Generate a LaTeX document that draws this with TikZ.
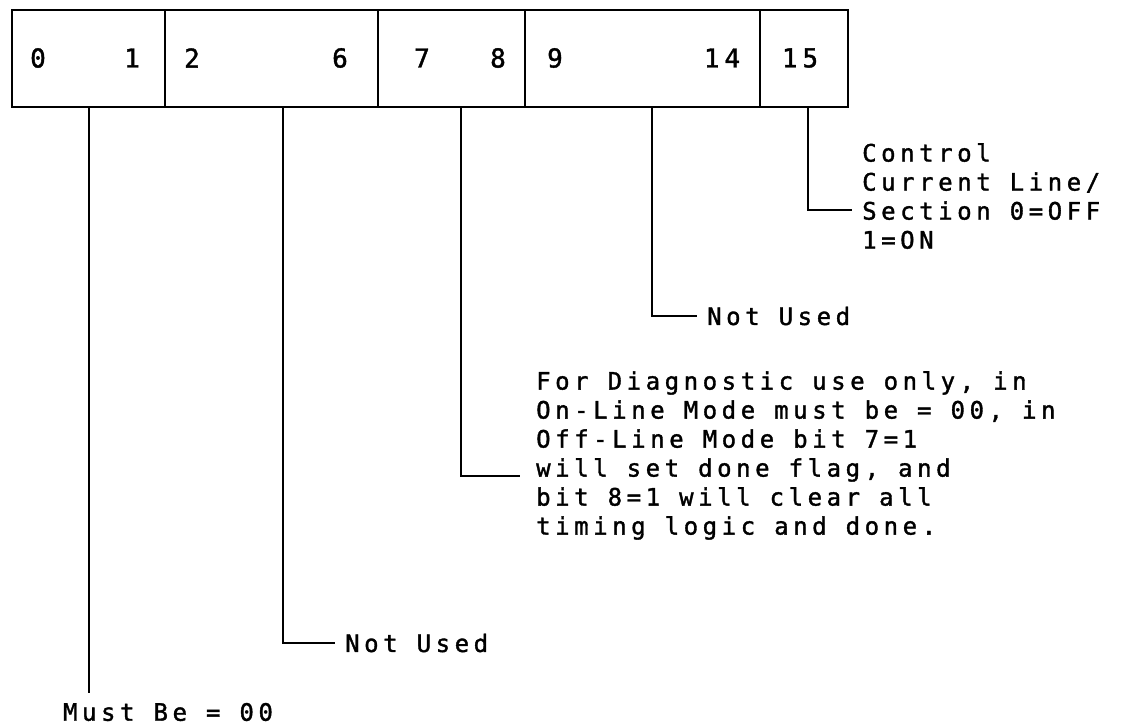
\documentclass[tikz,border=0pt]{standalone}
\usepackage{fontspec}
\newfontfamily\gothic[LetterSpace=19,FakeBold=1.5]{DejaVu Sans Mono}
\usetikzlibrary{fit}
\tikzset{
  cell/.style={draw,line width=2.5pt,inner sep=0pt},
  digit/.style={font=\gothic\fontsize{26}{28}\selectfont,inner sep=0pt},
  lbl/.style={font=\gothic\fontsize{24}{29}\selectfont,align=left,inner sep=10pt},
  wire/.style={draw,line width=2pt},
}
\begin{document}
\begin{tikzpicture}[x=1pt,y=-1pt]
\useasboundingbox (0,0) rectangle (1124,726);
% register fields
\foreach \nm/\lo/\hi in {01/12/165,26/165/378,78/378/525,914/525/760,15/760/848}{
  \node[cell,fit={(\lo,10) (\hi,107)}] (b\nm) {};}
\foreach \bit/\xx in {0/38,1/132,2/192,6/340,7/422,8/498,9/555,14/722,15/800}{
  \node[digit] (d\bit) at (\xx,58) {\bit};}
% field notes
\node[lbl,anchor=north west] (ctl) at (852,133) {Control\\Current Line/\\Section 0=OFF\\1=ON};
\node[lbl,anchor=west] (nu914) at (697,316) {Not Used};
\node[lbl,anchor=north west] (diag) at (526,361) {For Diagnostic use only, in\\On-Line Mode must be = 00, in\\Off-Line Mode bit 7=1\\will set done flag, and\\bit 8=1 will clear all\\timing logic and done.};
\node[lbl,anchor=west] (nu26) at (335,643) {Not Used};
\node[lbl] (mustbe) at (168,712) {Must Be = 00};
\coordinate (ctlin) at (852,210);
\coordinate (diagin) at (520,476);
% leaders
\draw[wire] (b15.south) ++(4,0) |- (ctlin);
\draw[wire] (b914.south) ++(9.5,0) |- (nu914.west);
\draw[wire] (b78.south) ++(9.5,0) |- (diagin);
\draw[wire] (b26.south) ++(11.5,0) |- (nu26.west);
\draw[wire] (b01.south) -- (b01.south |- mustbe.north);
\end{tikzpicture}
\end{document}
